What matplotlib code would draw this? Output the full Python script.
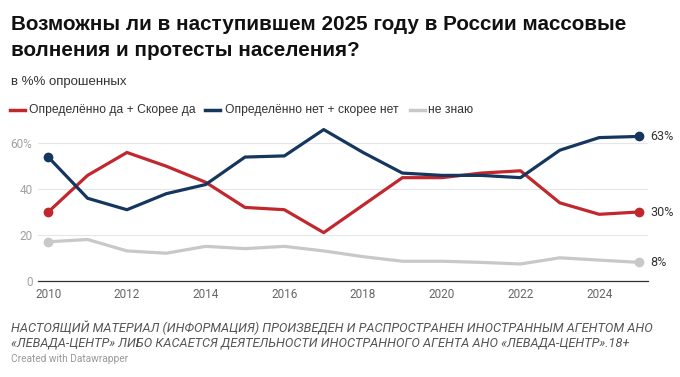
import matplotlib
matplotlib.use("Agg")
import matplotlib.pyplot as plt

plt.rcParams['font.family'] = ['Roboto', 'DejaVu Sans']
HEAD = ['Liberation Sans', 'DejaVu Sans']

years = list(range(2010, 2026))
yes_vals = [30, 46, 56, 50, 43, 32, 31, 21, 33, 45, 45, 47, 48, 34, 29, 30]
no_vals = [54, 36, 31, 38, 42, 54, 54.5, 66, 56, 47, 46, 46, 45, 57, 62.5, 63]
dk_vals = [17, 18, 13, 12, 15, 14, 15, 13, 10.5, 8.5, 8.5, 8, 7.3, 10, 9, 8]

series = [
    ("Определённо да + Скорее да", yes_vals, "#c1272d"),
    ("Определённо нет + скорее нет", no_vals, "#15365e"),
    ("не знаю", dk_vals, "#c8c8c8"),
]

x_ticks = list(range(2010, 2025, 2))
y_ticks = [0, 20, 40, 60]
y_labels = ["0", "20", "40", "60%"]

W, H = 680, 377
fig = plt.figure(figsize=(W / 100, H / 100), dpi=100)
ax = fig.add_axes([38 / W, 1 - 280.7 / H, 610 / W, (280.7 - 125) / H])

for name, vals, col in series:
    ax.plot(years, vals, color=col, lw=2.3, solid_capstyle='round', zorder=3)
    ax.plot([years[0], years[-1]], [vals[0], vals[-1]], 'o', color=col, ms=6, zorder=4)
    ax.text(years[-1] + 0.3, vals[-1], f"{vals[-1]:.0f}%", va='center', ha='left',
            fontsize=9, color='#333333')

ax.set_xlim(2009.74, 2025.24)
ax.set_ylim(0, 68)
ax.set_yticks(y_ticks)
ax.set_yticklabels(y_labels)
ax.set_xticks(x_ticks)
ax.tick_params(axis='y', length=0, labelsize=8.5, labelcolor='#a0a0a0', pad=4)
ax.tick_params(axis='x', length=0, labelsize=8.5, labelcolor='#666666', pad=5)
ax.grid(axis='y', color='#e6e6e6', lw=0.8)
ax.set_axisbelow(True)
for s in ['top', 'right', 'left']:
    ax.spines[s].set_visible(False)
ax.spines['bottom'].set_color('#333333')
ax.spines['bottom'].set_linewidth(0.9)

fig.text(11 / W, 1 - 29.5 / H, "Возможны ли в наступившем 2025 году в России массовые",
         family=HEAD, fontsize=14.9, fontweight='bold', color='#111111', va='baseline')
fig.text(11 / W, 1 - 55.5 / H, "волнения и протесты населения?",
         family=HEAD, fontsize=14.9, fontweight='bold', color='#111111', va='baseline')
fig.text(11 / W, 1 - 85 / H, "в %% опрошенных", family=HEAD, fontsize=9.5,
         color='#333333', va='baseline')

# legend
leg = [(10, 29), (205, 225), (410, 428)]
for (name, vals, col), (lx, tx) in zip(series, leg):
    fig.add_artist(plt.Line2D([lx / W, (lx + 15) / W], [1 - 109.7 / H] * 2, color=col, lw=2.5))
    fig.text(tx / W, 1 - 109.7 / H, name, family=HEAD, fontsize=8.7,
             color='#333333', va='center')

fig.text(11 / W, 1 - 328 / H,
         "НАСТОЯЩИЙ МАТЕРИАЛ (ИНФОРМАЦИЯ) ПРОИЗВЕДЕН И РАСПРОСТРАНЕН ИНОСТРАННЫМ АГЕНТОМ АНО",
         fontsize=9.2, style='italic', color='#555555', va='center')
fig.text(11 / W, 1 - 343 / H,
         "«ЛЕВАДА-ЦЕНТР» ЛИБО КАСАЕТСЯ ДЕЯТЕЛЬНОСТИ ИНОСТРАННОГО АГЕНТА АНО «ЛЕВАДА-ЦЕНТР».18+",
         fontsize=9.2, style='italic', color='#555555', va='center')
fig.text(11 / W, 1 - 358.5 / H, "Created with Datawrapper", fontsize=7.3,
         color='#999999', va='center')

fig.savefig("out.png", dpi=100, facecolor='white')
